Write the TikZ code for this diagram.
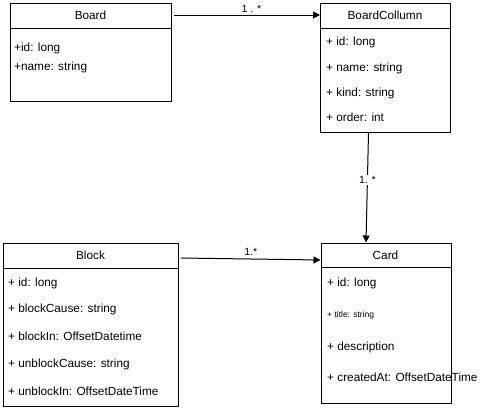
\documentclass[tikz,border=0pt]{standalone}
\usepackage{fontspec}
\setmainfont{Liberation Sans}
\usetikzlibrary{arrows.meta}
\begin{document}
\begin{tikzpicture}[x=1pt,y=-1pt,
  umlbox/.style={draw,line width=1pt,rectangle,anchor=north west,inner sep=0pt},
  divider/.style={line width=1pt},
  title/.style={font=\fontsize{11.8}{14}\selectfont,inner sep=0pt},
  attr/.style={font=\fontsize{11.8}{14}\selectfont,anchor=west,inner sep=0pt},
  smallattr/.style={font=\fontsize{8.5}{10}\selectfont,anchor=west,inner sep=0pt},
  assoc/.style={line width=1pt,-{Triangle[length=7pt,width=7pt]}},
  mult/.style={font=\fontsize{10.5}{12}\selectfont,inner sep=1pt}]
\useasboundingbox (0,0) rectangle (501,408);
% Board
\node[umlbox,minimum width=161pt,minimum height=98pt] (board) at (10,3) {};
\draw[divider] (10,28.5) -- (171,28.5);
\node[title] (boardt) at (90.5,15.5) {Board};
\node[attr] (b1) at (14,48) {+id: long};
\node[attr] (b2) at (14,67) {+name: string};
% BoardCollumn
\node[umlbox,minimum width=130pt,minimum height=129pt] (bc) at (320,3) {};
\draw[divider] (320,28.5) -- (450,28.5);
\node[title] (bct) at (385,15.5) {BoardCollumn};
\node[attr] (c1) at (326,42) {+ id: long};
\node[attr] (c2) at (326,68) {+ name: string};
\node[attr] (c3) at (326,93) {+ kind: string};
\node[attr] (c4) at (326,117) {+ order: int};
% Card
\node[umlbox,minimum width=130pt,minimum height=160pt] (card) at (320.5,242.5) {};
\draw[divider] (320.5,267) -- (450.5,267);
\node[title] (cardt) at (385.5,255) {Card};
\node[attr] (d1) at (327,283) {+ id: long};
\node[smallattr] (d2) at (327,315) {+ title: string};
\node[attr] (d3) at (327,347) {+ description};
\node[attr] (d4) at (327,377) {+ createdAt: OffsetDateTime};
% Block
\node[umlbox,minimum width=175pt,minimum height=163pt] (block) at (3,242.5) {};
\draw[divider] (3,268) -- (178,268);
\node[title] (blockt) at (90.5,255) {Block};
\node[attr] (k1) at (8,283) {+ id: long};
\node[attr] (k2) at (8,309) {+ blockCause: string};
\node[attr] (k3) at (8,336) {+ blockIn: OffsetDatetime};
\node[attr] (k4) at (8,364) {+ unblockCause: string};
\node[attr] (k5) at (8,391) {+ unblockIn: OffsetDateTime};
% connectors
\draw[assoc] ([xshift=2pt,yshift=-12pt]board.north east) -- ([yshift=-12pt]bc.north west)
  node[mult,pos=0.53,above=1pt] (m1) {1 . *};
\draw[assoc] ([xshift=-17pt]bc.south) -- ([xshift=-20pt]card.north)
  node[mult,pos=0.43,fill=white] (m2) {1. *};
\draw[assoc] ([xshift=2pt,yshift=-15.5pt]block.north east) -- ([yshift=-17.5pt]card.north west)
  node[mult,pos=0.5,above=2pt] (m3) {1.*};
\end{tikzpicture}
\end{document}
